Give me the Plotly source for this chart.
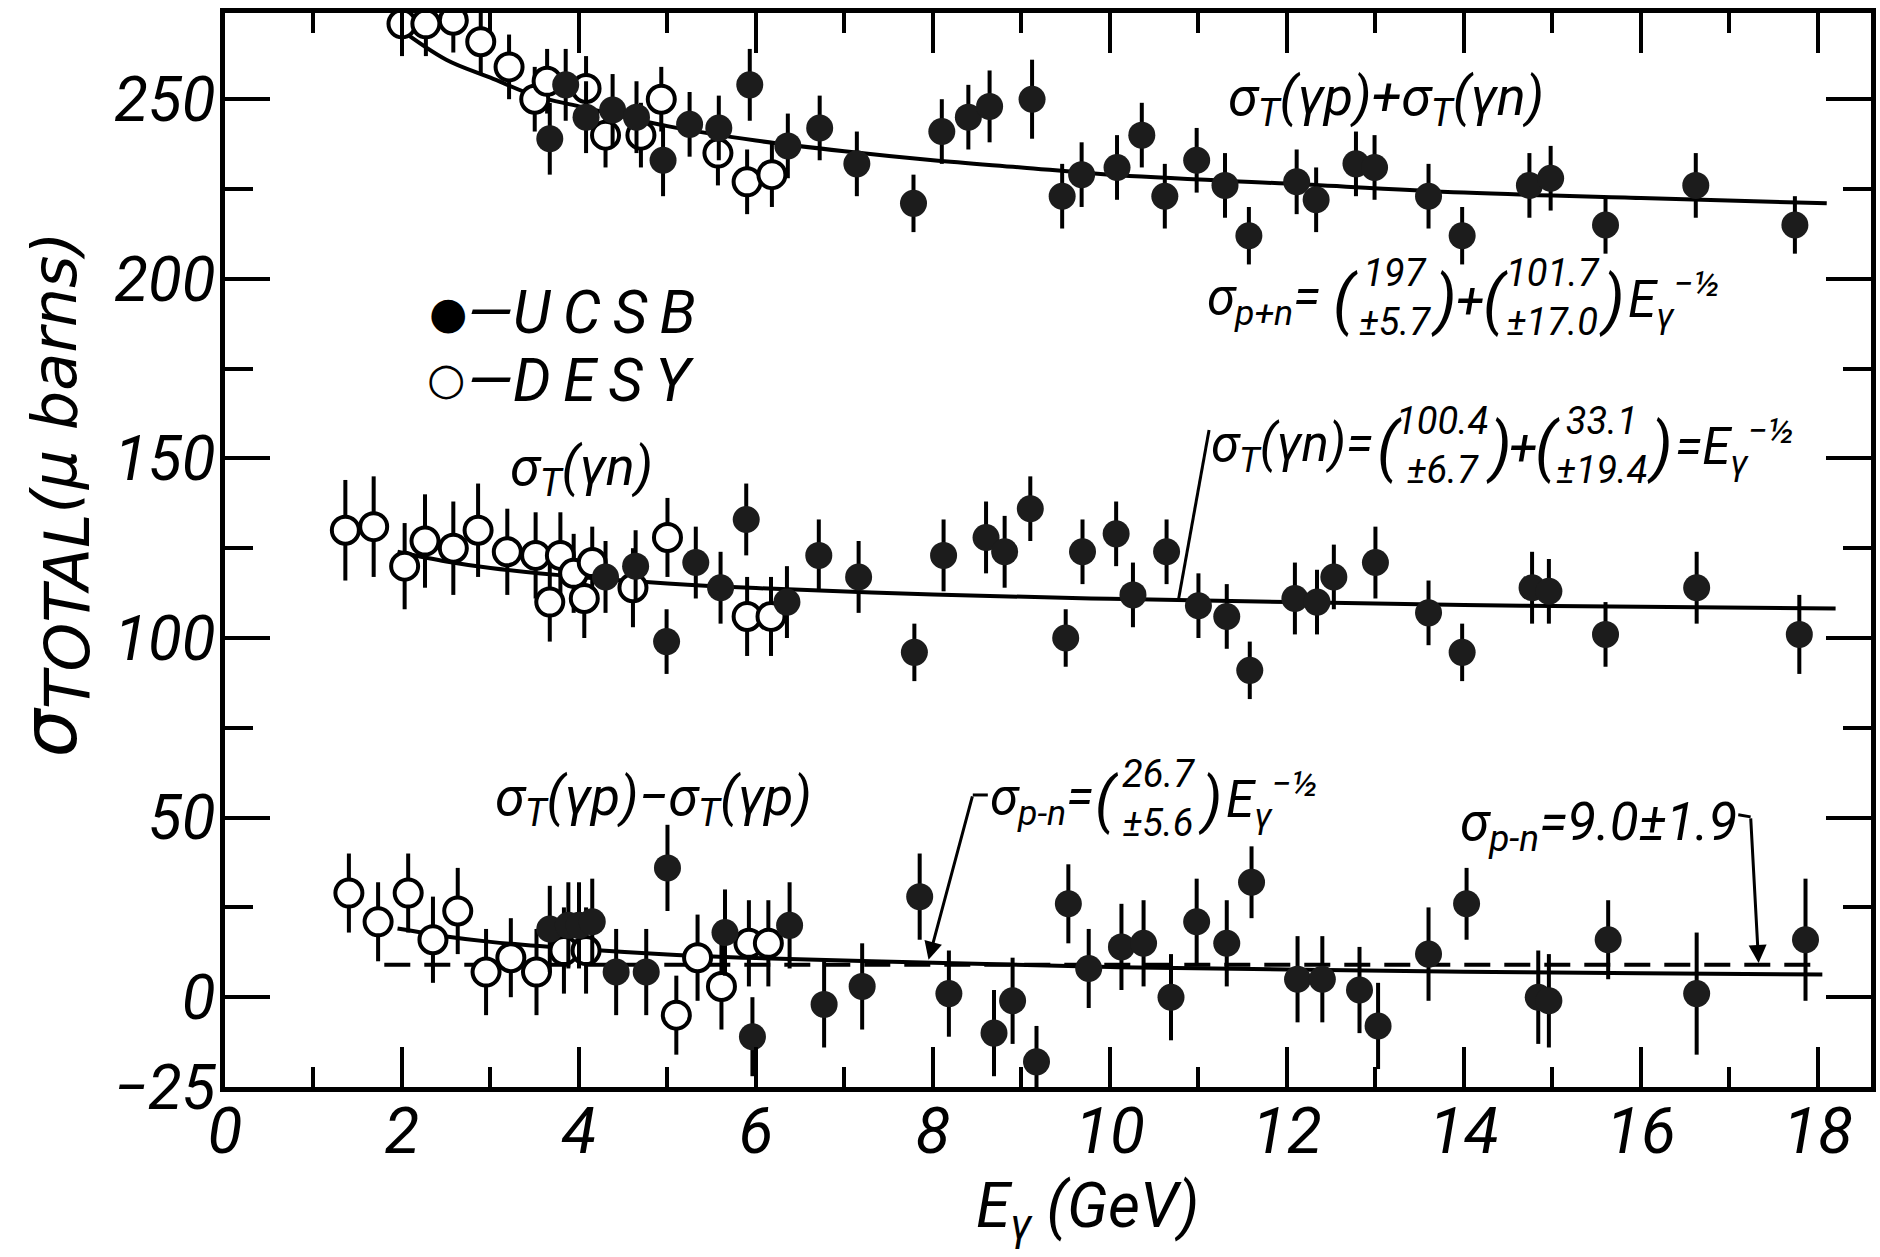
import plotly.graph_objects as go

# ---------------- data ----------------
# sigma_T(gamma p) + sigma_T(gamma n)
top_ucsb_x = [3.67, 3.85, 4.08, 4.38, 4.65, 4.95, 5.25, 5.58, 5.93, 6.36, 6.72, 7.14, 7.78, 8.10, 8.40, 8.64,
              9.12, 9.46, 9.68, 10.08, 10.36, 10.62, 10.98, 11.30, 11.57, 12.11, 12.33, 12.78, 12.99, 13.60,
              13.98, 14.74, 14.98, 15.60, 16.62, 17.74]
top_ucsb_y = [239, 254, 245, 247, 245, 233, 243, 242, 254, 237, 242, 232, 221, 241, 245, 248,
              250, 223, 229, 231, 240, 223, 233, 226, 212, 227, 222, 232, 231, 223,
              212, 226, 228, 215, 226, 215]
top_ucsb_err = [10, 10, 10, 10, 10, 10, 9, 9, 10, 9, 9, 9, 8, 9, 9, 10,
                11, 9, 9, 9, 9, 9, 9, 9, 8, 9, 9, 9, 9, 9,
                8, 9, 9, 8, 9, 8]
top_desy_x = [2.00, 2.27, 2.58, 2.89, 3.21, 3.50, 3.64, 4.08, 4.30, 4.70, 4.93, 5.57, 5.90, 6.18]
top_desy_y = [271, 271, 272, 266, 259, 250, 255, 253, 240, 240, 250, 235, 227, 229]
top_desy_err = [9, 9, 9, 9, 9, 9, 9, 9, 9, 9, 9, 9, 9, 9]

# sigma_T(gamma n)
mid_ucsb_x = [4.30, 4.64, 4.99, 5.32, 5.60, 5.89, 6.35, 6.71, 7.16, 7.79, 8.12, 8.60, 8.81, 9.10,
              9.50, 9.69, 10.07, 10.26, 10.64, 11.00, 11.32, 11.58, 12.09, 12.34, 12.53, 13.00,
              13.60, 13.98, 14.77, 14.96, 15.60, 16.63, 17.79]
mid_ucsb_y = [117, 120, 99, 121, 114, 133, 110, 123, 117, 96, 123, 128, 124, 136,
              100, 124, 129, 112, 124, 109, 106, 91, 111, 110, 117, 121,
              107, 96, 114, 113, 101, 114, 101]
mid_ucsb_err = [10, 10, 9, 10, 10, 10, 10, 10, 10, 8, 10, 10, 10, 9,
                8, 9, 9, 9, 9, 9, 9, 8, 10, 9, 9, 10,
                9, 8, 10, 9, 9, 10, 11]
mid_desy_x = [1.36, 1.68, 2.03, 2.26, 2.58, 2.86, 3.19, 3.51, 3.67, 3.79, 3.94, 4.06, 4.15, 4.61,
              5.00, 5.90, 6.17]
mid_desy_y = [130, 131, 120, 127, 125, 130, 124, 123, 110, 123, 118, 111, 121, 114,
              128, 106, 106]
mid_desy_err = [14, 14, 12, 13, 13, 13, 12, 12, 11, 12, 11, 11, 10, 11,
                11, 11, 11]

# sigma_T(gamma p) - sigma_T(gamma n)
bot_ucsb_x = [3.67, 3.88, 4.00, 4.15, 4.42, 4.76, 5.00, 5.65, 5.96, 6.38, 6.77, 7.20, 7.85, 8.18,
              8.69, 8.90, 9.17, 9.53, 9.76, 10.13, 10.38, 10.69, 10.98, 11.32, 11.60, 12.12,
              12.40, 12.82, 13.03, 13.60, 14.03, 14.84, 14.96, 15.63, 16.63, 17.86]
bot_ucsb_y = [19, 20, 20, 21, 7, 7, 36, 18, -11, 20, -2, 3, 28, 1,
              -10, -1, -18, 26, 8, 14, 15, 0, 21, 15, 32, 5,
              5, 2, -8, 12, 26, 0, -1, 16, 1, 16]
bot_ucsb_err = [12, 12, 12, 12, 12, 12, 12, 12, 11, 12, 12, 12, 12, 12,
                12, 12, 10, 11, 11, 12, 12, 12, 12, 12, 10, 12,
                12, 12, 12, 13, 10, 13, 13, 11, 17, 17]
bot_desy_x = [1.40, 1.73, 2.07, 2.35, 2.63, 2.95, 3.23, 3.52, 3.83, 4.08, 5.10, 5.34, 5.61, 5.92, 6.14]
bot_desy_y = [29, 21, 29, 16, 24, 7, 11, 7, 13, 13, -5, 11, 3, 15, 15]
bot_desy_err = [11, 11, 11, 12, 12, 12, 11, 12, 12, 12, 11, 12, 12, 12, 12]

# fitted curves
fit_top_x = [1.95, 2.5, 3, 3.5, 4, 5, 6, 7, 8, 9, 10, 12, 14, 16, 18.1]
fit_top_y = [270, 261, 256, 251, 248, 242.5, 238.5, 235.5, 233, 231, 229, 226.5, 224, 222.5, 221]
fit_mid_x = [1.95, 2.5, 3, 4, 5, 6, 8, 10, 12, 14, 16, 18.2]
fit_mid_y = [124, 121.3, 119.5, 117, 115.2, 113.9, 112.1, 110.9, 110, 109.2, 108.7, 108.2]
fit_bot_x = [1.95, 2.5, 3, 4, 5, 6, 8, 10, 12, 14, 16, 18.05]
fit_bot_y = [19.1, 16.9, 15.4, 13.4, 11.9, 10.9, 9.6, 8.4, 7.7, 7.1, 6.7, 6.3]
const_bot_x = [1.8, 18.05]
const_bot_y = [9.0, 9.0]

x_tickvals = [0, 2, 4, 6, 8, 10, 12, 14, 16, 18]
y_tickvals = [-25, 0, 50, 100, 150, 200, 250]
y_minorvals = [25, 75, 125, 175, 225]

# ---------------- figure ----------------
FONT = "Roboto, 'DejaVu Sans', sans-serif"
WIDE = "'DejaVu Sans', Roboto, sans-serif"
BLACK = "#000000"
FILL = "#1c1c1c"

fig = go.Figure()

for fx, fy in [(fit_top_x, fit_top_y), (fit_mid_x, fit_mid_y), (fit_bot_x, fit_bot_y)]:
    fig.add_trace(go.Scatter(x=fx, y=fy, mode="lines", line=dict(color=BLACK, width=4, shape="spline"),
                             showlegend=False, hoverinfo="skip"))
fig.add_trace(go.Scatter(x=const_bot_x, y=const_bot_y, mode="lines",
                         line=dict(color=BLACK, width=4, dash="26px,14px"),
                         showlegend=False, hoverinfo="skip"))


def add_points(x, y, err, filled, name):
    fig.add_trace(go.Scatter(
        x=x, y=y, mode="markers", name=name, showlegend=False,
        marker=dict(symbol="circle", size=27,
                    color=FILL if filled else "white",
                    line=dict(color=BLACK, width=0 if filled else 4)),
        error_y=dict(type="data", array=err, visible=True, width=0, thickness=4, color=BLACK),
    ))


add_points(top_desy_x, top_desy_y, top_desy_err, False, "DESY")
add_points(mid_desy_x, mid_desy_y, mid_desy_err, False, "DESY")
add_points(bot_desy_x, bot_desy_y, bot_desy_err, False, "DESY")
add_points(top_ucsb_x, top_ucsb_y, top_ucsb_err, True, "UCSB")
add_points(mid_ucsb_x, mid_ucsb_y, mid_ucsb_err, True, "UCSB")
add_points(bot_ucsb_x, bot_ucsb_y, bot_ucsb_err, True, "UCSB")


# pixel -> data helpers for placing text (plot area 225..1876 x 13..1087)
def XP(px):
    return (px - 225) / 88.77


def YP(py):
    return (997.2 - py) / 3.592


ann = []


def txt(text, px, py, size=54, xanchor="center", yanchor="middle", family=FONT, italic=True):
    ann.append(dict(text=text, x=XP(px), y=YP(py), xref="x", yref="y", showarrow=False,
                    xanchor=xanchor, yanchor=yanchor, align="center",
                    font=dict(family=family, size=size, color=BLACK,
                              style="italic" if italic else "normal")))


G = 54   # group labels
M = 51   # main equation text
N = 38   # stacked numbers
P = 64   # tall parentheses

# group labels
txt("σ<sub>T</sub>(γp)+σ<sub>T</sub>(γn)", 1390, 100, G)
txt("σ<sub>T</sub>(γn)", 583, 470, G)
txt("σ<sub>T</sub>(γp)−σ<sub>T</sub>(γp)", 655, 800, G)

# equation 1
txt("σ<sub>p+n</sub>=", 1208, 300, M, xanchor="left")
txt("(", 1349, 300, P)
txt("197<br>±5.7", 1399, 297, N)
txt(")", 1448, 300, P)
txt("+", 1474, 300, M)
txt("(", 1499, 300, P)
txt("101.7<br>±17.0", 1557, 297, N)
txt(")", 1616, 300, P)
txt("E<sub>γ</sub><sup>−½</sup>", 1630, 300, M, xanchor="left")

# equation 2
txt("σ<sub>T</sub>(γn)=", 1212, 447, M, xanchor="left")
txt("(", 1393, 447, P)
txt("100.4<br>±6.7", 1446, 445, N)
txt(")", 1503, 447, P)
txt("+", 1527, 447, M)
txt("(", 1552, 447, P)
txt("33.1<br>±19.4", 1606, 445, N)
txt(")", 1664, 447, P)
txt("=E<sub>γ</sub><sup>−½</sup>", 1678, 447, M, xanchor="left")

# equation 3
txt("σ<sub>p-n</sub>=", 990, 800, M, xanchor="left")
txt("(", 1110, 800, 60)
txt("26.7<br>±5.6", 1161, 798, N)
txt(")", 1213, 800, 60)
txt("E<sub>γ</sub><sup>−½</sup>", 1227, 800, M, xanchor="left")

# equation 4
txt("σ<sub>p-n</sub>=9.0±1.9", 1462, 825, 53, xanchor="left")

# legend keys
txt("●", 449, 312, 44, family="'DejaVu Sans'", italic=False)
txt("—U\u2009C\u2009S\u2009B", 466, 312, 60, xanchor="left")
txt("○", 447, 378, 44, family="'DejaVu Sans'", italic=False)
txt("—D\u2009E\u2009S\u2009Y", 466, 380, 60, xanchor="left")

# leader arrows
ann.append(dict(x=7.95, y=10.4, ax=8.45, ay=56.3, xref="x", yref="y", axref="x", ayref="y",
                showarrow=True, arrowhead=2, arrowsize=1.2, arrowwidth=3, arrowcolor=BLACK, text=""))
ann.append(dict(x=17.33, y=9.5, ax=17.24, ay=50.2, xref="x", yref="y", axref="x", ayref="y",
                showarrow=True, arrowhead=2, arrowsize=1.2, arrowwidth=3, arrowcolor=BLACK, text=""))

# axis titles
ann.append(dict(text="<span style='font-size:76px'>σ</span><sub><span style='font-size:62px'>TOTAL</span></sub>(μ barns)",
                x=(53 - 225) / 1651, y=(1087 - 760) / 1074, xref="paper", yref="paper",
                showarrow=False, textangle=-90, xanchor="center", yanchor="bottom",
                font=dict(family=WIDE, size=62, color=BLACK, style="italic")))
ann.append(dict(text="E<sub>γ</sub> (GeV)", x=(1090 - 225) / 1651, y=(1087 - 1210) / 1074,
                xref="paper", yref="paper", showarrow=False, xanchor="center", yanchor="middle",
                font=dict(family=FONT, size=62, color=BLACK, style="italic")))

shapes = [
    # leader for equation 2
    dict(type="line", xref="x", yref="y", x0=10.77, y0=110.1, x1=11.12, y1=157.9,
         line=dict(color=BLACK, width=3)),
    # small hooks on the arrows
    dict(type="line", xref="x", yref="y", x0=8.45, y0=56.3, x1=8.62, y1=56.3,
         line=dict(color=BLACK, width=3)),
    dict(type="line", xref="x", yref="y", x0=17.1, y0=50.8, x1=17.24, y1=50.2,
         line=dict(color=BLACK, width=3)),
]

axis_common = dict(showline=True, linewidth=5, linecolor=BLACK, mirror="ticks",
                   ticks="inside", tickwidth=4, tickcolor=BLACK, showgrid=False, zeroline=False)

fig.update_layout(
    width=1880, height=1257,
    margin=dict(l=225, r=4, t=13, b=170),
    paper_bgcolor="white", plot_bgcolor="white",
    showlegend=False,
    annotations=ann, shapes=shapes,
    xaxis=dict(range=[0, 18.6], tickmode="array", tickvals=x_tickvals, ticklen=40,
               minor=dict(tickmode="linear", tick0=0, dtick=1, ticklen=20, tickwidth=4,
                          tickcolor=BLACK, ticks="inside"),
               tickfont=dict(family=FONT, size=64, color=BLACK, style="italic"),
               ticklabelstandoff=-16, **axis_common),
    yaxis=dict(range=[-25, 274], tickmode="array", tickvals=y_tickvals, ticklen=45,
               minor=dict(tickmode="array", tickvals=y_minorvals, ticklen=28, tickwidth=4,
                          tickcolor=BLACK, ticks="inside"),
               tickfont=dict(family=FONT, size=62, color=BLACK, style="italic"),
               ticklabelstandoff=-8, **axis_common),
)

fig.write_html("out.html")
